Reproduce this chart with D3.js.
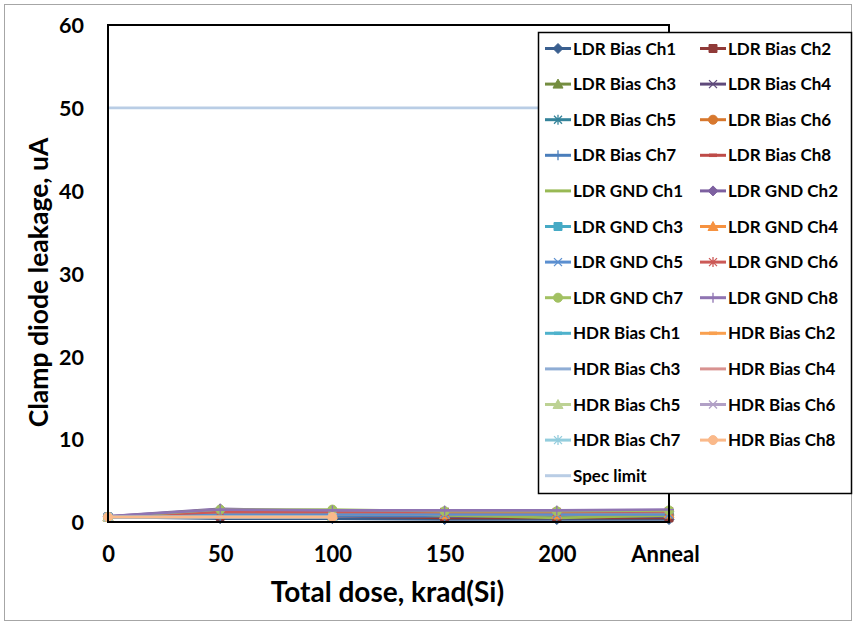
<!DOCTYPE html>
<html>
<head>
<meta charset="utf-8">
<script src="https://cdn.jsdelivr.net/npm/d3@7"></script>
<style>
  html, body { margin: 0; padding: 0; background: #fff; }
  svg text { font-family: Lato, "Open Sans", sans-serif; font-weight: 700; fill: #000; }
</style>
</head>
<body>
<svg id="chart" width="856" height="625"></svg>
<script>
// Dose steps along the x axis
const categories = ["0", "50", "100", "150", "200", "Anneal"];
const yTicks = [0, 10, 20, 30, 40, 50, 60];

// Clamp diode leakage (uA) per channel at each dose step; null = not measured
const ldrBiasCh1 = [0.6, 0.4, 0.4, 0.3, 0.3, 0.3];
const ldrBiasCh2 = [0.6, 0.7, 0.7, 0.5, 0.5, 0.5];
const ldrBiasCh3 = [0.6, 1.4, 1.4, 1.3, 1.2, 1.3];
const ldrBiasCh4 = [0.6, 1.2, 1.2, 1.2, 1.1, 1.2];
const ldrBiasCh5 = [0.6, 1.0, 1.0, 1.0, 1.0, 1.0];
const ldrBiasCh6 = [0.6, 0.9, 0.9, 0.8, 0.8, 0.9];
const ldrBiasCh7 = [0.6, 0.7, 0.7, 0.7, 0.7, 0.7];
const ldrBiasCh8 = [0.6, 1.1, 1.1, 1.1, 1.0, 1.1];
const ldrGndCh1 = [0.6, 1.3, 1.3, 0.8, 0.5, 0.8];
const ldrGndCh2 = [0.7, 1.6, 1.3, 1.3, 1.3, 1.3];
const ldrGndCh3 = [0.6, 1.0, 1.0, 1.0, 1.0, 1.0];
const ldrGndCh4 = [0.6, 1.0, 0.9, 0.9, 0.9, 1.0];
const ldrGndCh5 = [0.6, 0.9, 0.9, 0.9, 0.9, 0.9];
const ldrGndCh6 = [0.6, 1.2, 1.2, 1.2, 1.2, 1.3];
const ldrGndCh7 = [0.6, 1.5, 1.5, 1.3, 1.3, 1.4];
const ldrGndCh8 = [0.7, 1.5, 1.4, 1.4, 1.4, 1.5];
const hdrBiasCh1 = [0.6, null, 0.6, null, null, null];
const hdrBiasCh2 = [0.6, null, 0.6, null, null, null];
const hdrBiasCh3 = [0.6, null, 0.6, null, null, null];
const hdrBiasCh4 = [0.6, null, 0.6, null, null, null];
const hdrBiasCh5 = [0.6, null, 0.6, null, null, null];
const hdrBiasCh6 = [0.6, null, 0.6, null, null, null];
const hdrBiasCh7 = [0.6, null, 0.6, null, null, null];
const hdrBiasCh8 = [0.6, null, 0.6, null, null, null];
const specLimit = [50, 50, 50, 50, 50, 50];

const seriesNames = [
  "LDR Bias Ch1", "LDR Bias Ch2", "LDR Bias Ch3", "LDR Bias Ch4",
  "LDR Bias Ch5", "LDR Bias Ch6", "LDR Bias Ch7", "LDR Bias Ch8",
  "LDR GND Ch1", "LDR GND Ch2", "LDR GND Ch3", "LDR GND Ch4",
  "LDR GND Ch5", "LDR GND Ch6", "LDR GND Ch7", "LDR GND Ch8",
  "HDR Bias Ch1", "HDR Bias Ch2", "HDR Bias Ch3", "HDR Bias Ch4",
  "HDR Bias Ch5", "HDR Bias Ch6", "HDR Bias Ch7", "HDR Bias Ch8",
  "Spec limit"
];
const seriesValues = [
  ldrBiasCh1, ldrBiasCh2, ldrBiasCh3, ldrBiasCh4, ldrBiasCh5, ldrBiasCh6, ldrBiasCh7, ldrBiasCh8,
  ldrGndCh1, ldrGndCh2, ldrGndCh3, ldrGndCh4, ldrGndCh5, ldrGndCh6, ldrGndCh7, ldrGndCh8,
  hdrBiasCh1, hdrBiasCh2, hdrBiasCh3, hdrBiasCh4, hdrBiasCh5, hdrBiasCh6, hdrBiasCh7, hdrBiasCh8,
  specLimit
];
const seriesColors = [
  "#3a5f8f", "#903a38", "#748d40", "#5f4a7b", "#34839a", "#d7782e", "#4a7ebb", "#be4b48",
  "#98b954", "#7d60a0", "#46aac5", "#f69240", "#5b8fd0", "#cc5a57", "#a2c162", "#8f74b2",
  "#4fb2cc", "#f9a04f", "#8fadd5", "#d89290", "#bdd294", "#b1a0c6", "#93cddd", "#fab98a",
  "#b9cde5"
];
const seriesMarkers = [
  "diamond", "square", "triangle", "x", "star", "circle", "plus", "dash",
  "none", "diamond", "square", "triangle", "x", "star", "circle", "plus",
  "dash", "dash", "none", "none", "triangle", "x", "star", "circle",
  "none"
];

const svg = d3.select("#chart");
const W = 856, H = 625;
const plot = { left: 108, right: 669, top: 25, bottom: 522 };

// Chart border
svg.append("rect").attr("x", 4.5).attr("y", 4.5).attr("width", W - 9).attr("height", H - 9)
  .attr("fill", "#fff").attr("stroke", "#a6a6a6").attr("stroke-width", 1);

const x = d3.scalePoint().domain(categories).range([plot.left, plot.right]);
const y = d3.scaleLinear().domain([0, 60]).range([plot.bottom, plot.top]);

// Axes (labels only; axis lines are the plot frame)
const yAxis = svg.append("g").attr("transform", `translate(${plot.left},0)`)
  .call(d3.axisLeft(y).tickValues(yTicks).tickSize(0).tickPadding(24));
yAxis.select(".domain").remove();
yAxis.selectAll("text").attr("font-size", 21.5).attr("dy", "0.36em");

const xAxis = svg.append("g").attr("transform", `translate(0,${plot.bottom})`)
  .call(d3.axisBottom(x).tickSize(0).tickPadding(24));
xAxis.select(".domain").remove();
xAxis.selectAll("text").attr("font-size", 22).attr("dx", d => d === "Anneal" ? -4 : 0);

// Axis titles
svg.append("text").attr("x", (plot.left + plot.right) / 2 - 1).attr("y", 602)
  .attr("text-anchor", "middle").attr("font-size", 28).text("Total dose, krad(Si)");
svg.append("text").attr("transform", `translate(48,${(plot.top + plot.bottom) / 2 + 9}) rotate(-90)`)
  .attr("text-anchor", "middle").attr("font-size", 26.5).text("Clamp diode leakage, uA");

// Marker shapes
function markerPath(kind, s) {
  const h = s / 2;
  switch (kind) {
    case "diamond": return `M0,${-h - 1}L${h + 1},0L0,${h + 1}L${-h - 1},0Z`;
    case "square": return `M${-h},${-h}H${h}V${h}H${-h}Z`;
    case "triangle": return `M0,${-h - 1}L${h + 1},${h}L${-h - 1},${h}Z`;
    case "x": return `M${-h},${-h}L${h},${h}M${-h},${h}L${h},${-h}`;
    case "star": return `M${-h},${-h}L${h},${h}M${-h},${h}L${h},${-h}M0,${-h - 1}V${h + 1}`;
    case "plus": return `M0,${-h - 1}V${h + 1}M${-h - 1},0H${h + 1}`;
    case "dash": return `M${-h},0H${h}`;
    default: return null;
  }
}
function drawMarker(g, kind, color, cx, cy) {
  if (kind === "none") return;
  if (kind === "circle") {
    g.append("circle").attr("cx", cx).attr("cy", cy).attr("r", 4.5)
      .attr("fill", color).attr("stroke", color).attr("stroke-width", 1);
    return;
  }
  const filled = ["diamond", "square", "triangle"].includes(kind);
  g.append("path").attr("transform", `translate(${cx},${cy})`)
    .attr("d", markerPath(kind, 8))
    .attr("fill", filled ? color : "none")
    .attr("stroke", color)
    .attr("stroke-width", kind === "dash" ? 3.5 : (filled ? 1 : 1.3));
}

// Series lines and markers (drawn in series order, later ones on top)
const line = d3.line().x(d => x(d.c)).y(d => y(d.v));
const seriesG = svg.append("g");
seriesNames.forEach((name, i) => {
  const pts = categories.map((c, j) => ({ c, v: seriesValues[i][j] })).filter(d => d.v != null);
  const g = seriesG.append("g");
  g.append("path").datum(pts).attr("d", line)
    .attr("fill", "none").attr("stroke", seriesColors[i]).attr("stroke-width", 2.6)
    .attr("stroke-linejoin", "round");
  pts.forEach(d => drawMarker(g, seriesMarkers[i], seriesColors[i], x(d.c), y(d.v)));
});

// Plot frame
svg.append("rect").attr("x", plot.left).attr("y", plot.top)
  .attr("width", plot.right - plot.left).attr("height", plot.bottom - plot.top)
  .attr("fill", "none").attr("stroke", "#000").attr("stroke-width", 2);

// Legend
const lg = { x: 538, y: 32, w: 313, h: 461, rowH: 35.6, firstRow: 48.5 };
svg.append("rect").attr("x", lg.x + 0.5).attr("y", lg.y + 0.5).attr("width", lg.w).attr("height", lg.h)
  .attr("fill", "#fff").attr("stroke", "#000").attr("stroke-width", 1.5);
const colX = [545, 700];
seriesNames.forEach((name, i) => {
  const col = i % 2, row = Math.floor(i / 2);
  const lx = colX[col], ly = lg.firstRow + row * lg.rowH;
  const g = svg.append("g");
  g.append("line").attr("x1", lx).attr("x2", lx + 26).attr("y1", ly).attr("y2", ly)
    .attr("stroke", seriesColors[i]).attr("stroke-width", 3);
  drawMarker(g, seriesMarkers[i], seriesColors[i], lx + 13, ly);
  g.append("text").attr("x", lx + 28).attr("y", ly).attr("dy", "0.36em")
    .attr("font-size", 17).text(name);
});
</script>
</body>
</html>
